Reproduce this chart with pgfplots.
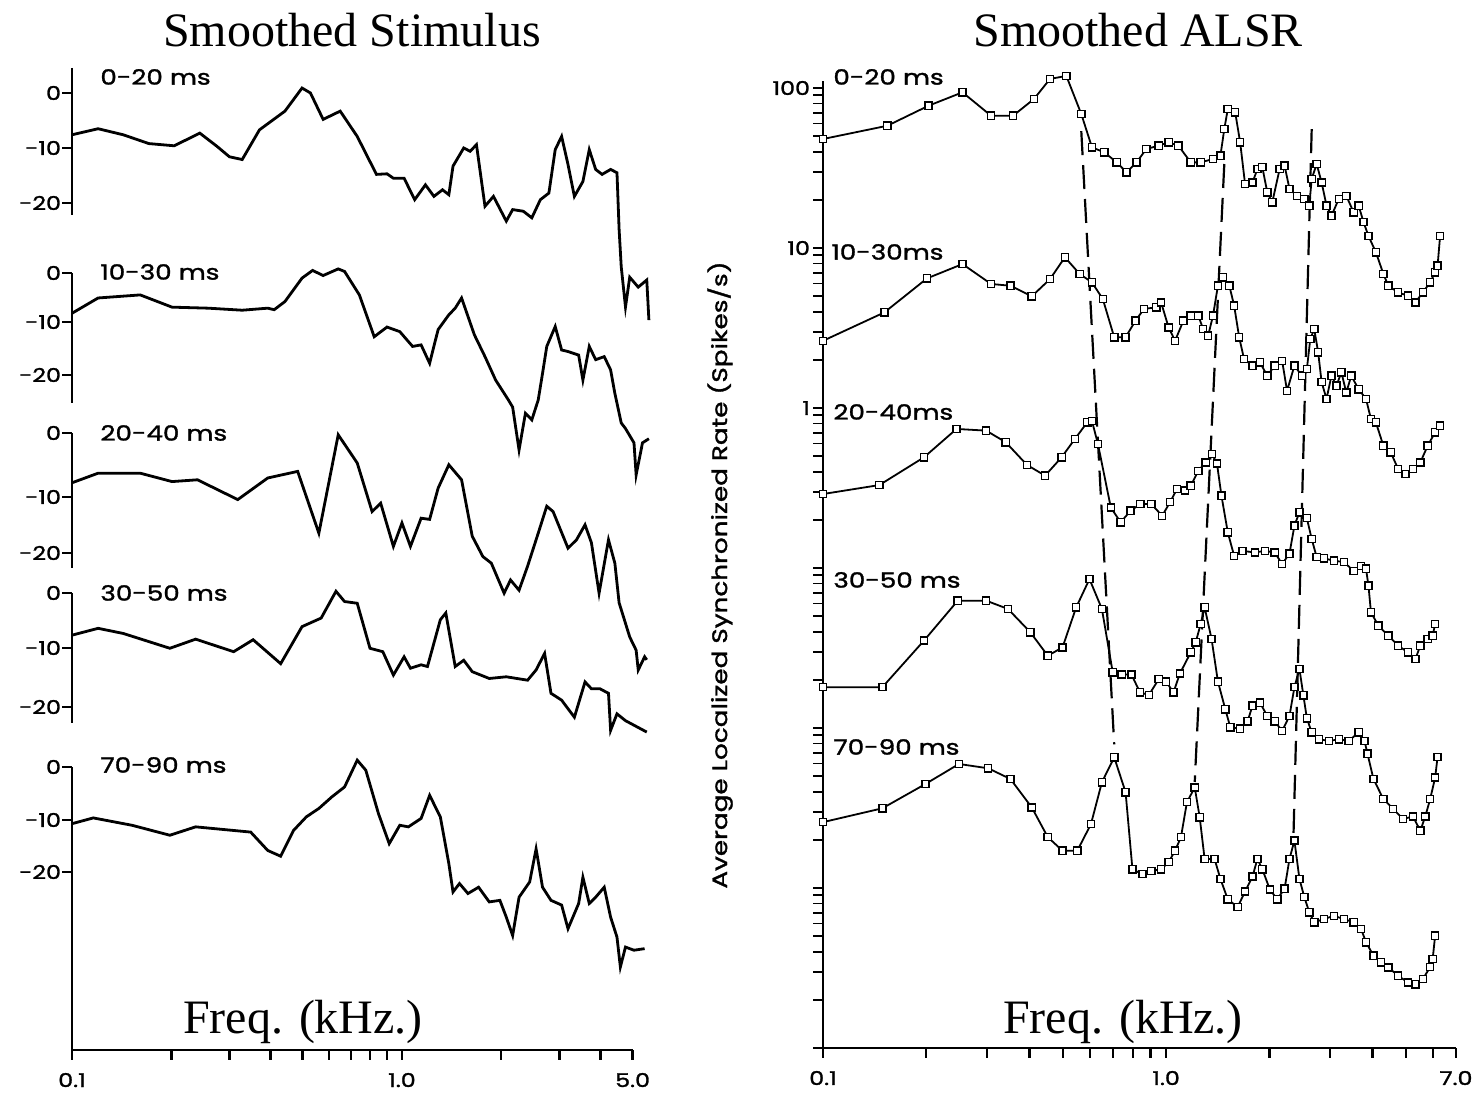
\documentclass[border=0pt]{standalone}
\usepackage{pgfplots}
\pgfplotsset{compat=1.18}
\usepackage{fontspec}
\setmainfont{Liberation Serif}
\newfontfamily\lab{Poppins}[FakeStretch=1.25, FakeBold=1.5]

\begin{document}
\begin{tikzpicture}
\path[use as bounding box] (0,0) rectangle (737.5pt,550.5pt);

% ---------------- left panel: smoothed stimulus (dB, five offset traces)
\begin{axis}[
  at={(36pt,25.5pt)}, anchor=south west,
  scale only axis, width=280.3pt, height=492.5pt,
  xmode=log, xmin=0.1, xmax=5,
  ymin=-1050, ymax=-65,
  axis x line=bottom, axis y line=left,
  axis line style={-, line width=1.3pt},
  y axis line style={draw=none},
  tick align=outside,
  major tick length=5pt, minor tick length=5pt,
  every tick/.style={black, line width=1.2pt},
  xtick={0.1,1,5}, xticklabels={0.1,1.0,5.0},
  minor xtick={0.2,0.3,0.4,0.5,0.6,0.7,0.8,0.9,2,3,4},
  ytick={-93,-148,-203,-273,-322,-375,-433,-497,-553,-593,-648,-707,-767,-820,-872},
  yticklabels={0,-10,-20,0,-10,-20,0,-10,-20,0,-10,-20,0,-10,-20},
  ticklabel style={font=\lab\fontsize{9.5}{10}\selectfont},
  yticklabel style={xshift=3pt},
  xticklabel style={yshift=-3pt},
  clip=false,
]
% axis segments, one per trace
\draw[line width=1.3pt] (axis cs:0.1,-68) -- (axis cs:0.1,-215);
\draw[line width=1.3pt] (axis cs:0.1,-273) -- (axis cs:0.1,-403);
\draw[line width=1.3pt] (axis cs:0.1,-433) -- (axis cs:0.1,-568);
\draw[line width=1.3pt] (axis cs:0.1,-593) -- (axis cs:0.1,-723);
\draw[line width=1.3pt] (axis cs:0.1,-767) -- (axis cs:0.1,-1050);

% 0-20 ms
\addplot[black, line width=1.4pt, y filter/.expression={-93+5.5*y}] coordinates {
(0.100,-7.6) (0.120,-6.5) (0.143,-7.6) (0.171,-9.2) (0.204,-9.6) (0.244,-7.3)
(0.275,-9.7) (0.300,-11.6) (0.328,-12.1) (0.370,-6.7) (0.442,-3.3) (0.498,0.9)
(0.528,0.0) (0.577,-4.8) (0.650,-3.3) (0.732,-7.9) (0.837,-14.8) (0.901,-14.7)
(0.942,-15.5) (1.015,-15.5) (1.093,-19.4) (1.178,-16.7) (1.250,-18.8) (1.327,-17.6)
(1.387,-18.5) (1.428,-13.3) (1.539,-10.0) (1.609,-10.6) (1.682,-9.4) (1.785,-20.6)
(1.894,-18.8) (2.071,-23.3) (2.165,-21.2) (2.332,-21.5) (2.475,-22.7) (2.627,-19.4)
(2.788,-18.2) (2.914,-10.3) (3.047,-7.9) (3.186,-13.0) (3.331,-18.8) (3.535,-16.1)
(3.696,-10.3) (3.865,-13.9) (4.041,-14.8) (4.289,-13.9) (4.484,-14.5) (4.551,-24.8)
(4.619,-31.6) (4.758,-38.9) (4.901,-33.5) (5.201,-35.3) (5.520,-34.0) (5.603,-41.3)
};
% 10-30 ms
\addplot[black, line width=1.4pt, y filter/.expression={-273+5.1*y}] coordinates {
(0.100,-7.9) (0.120,-4.9) (0.161,-4.3) (0.201,-6.7) (0.259,-6.9) (0.328,-7.3)
(0.392,-6.9) (0.410,-7.2) (0.442,-5.6) (0.498,-1.0) (0.536,0.5) (0.577,-0.5)
(0.641,0.8) (0.670,0.3) (0.743,-4.3) (0.824,-12.5) (0.901,-10.6) (0.985,-11.5)
(1.077,-14.4) (1.143,-14.1) (1.213,-17.7) (1.287,-11.1) (1.387,-8.2) (1.450,-6.9)
(1.516,-4.9) (1.585,-8.5) (1.657,-12.1) (1.785,-16.4) (1.923,-21.0) (2.102,-24.9)
(2.165,-26.3) (2.264,-34.7) (2.367,-27.5) (2.475,-28.8) (2.588,-24.9) (2.667,-19.7)
(2.747,-14.4) (2.914,-10.5) (3.047,-15.1) (3.186,-15.4) (3.432,-16.1) (3.535,-21.0)
(3.696,-14.4) (3.865,-17.0) (4.102,-16.4) (4.289,-19.0) (4.418,-23.6) (4.619,-29.4)
(4.758,-30.5) (5.049,-33.3) (5.125,-39.6) (5.358,-33.3) (5.603,-32.5)
};
% 20-40 ms
\addplot[black, line width=1.4pt, y filter/.expression={-433+6.0*y}] coordinates {
(0.100,-8.3) (0.120,-6.7) (0.161,-6.7) (0.201,-8.1) (0.240,-7.8) (0.318,-11.1)
(0.392,-7.5) (0.483,-6.4) (0.560,-16.7) (0.641,-0.3) (0.732,-5.0) (0.812,-13.1)
(0.862,-11.7) (0.942,-18.9) (1.000,-15.0) (1.061,-18.9) (1.143,-14.2) (1.213,-14.4)
(1.287,-9.2) (1.387,-5.3) (1.516,-7.8) (1.633,-17.2) (1.759,-20.6) (1.866,-21.7)
(2.040,-26.7) (2.133,-24.5) (2.264,-26.2) (2.403,-22.2) (2.588,-16.7) (2.747,-12.2)
(2.871,-13.1) (3.186,-19.2) (3.381,-17.8) (3.588,-15.3) (3.752,-18.3) (3.958,-26.7)
(4.226,-17.8) (4.418,-21.7) (4.551,-28.3) (4.901,-34.0) (5.125,-36.2) (5.201,-39.5)
(5.438,-37.3) (5.520,-37.8)
};
% 30-50 ms
\addplot[black, line width=1.4pt, y filter/.expression={-593+5.7*y}] coordinates {
(0.100,-7.4) (0.120,-6.2) (0.143,-7.1) (0.198,-9.7) (0.237,-8.1) (0.309,-10.3)
(0.354,-8.2) (0.429,-12.4) (0.498,-5.9) (0.569,-4.4) (0.631,0.3) (0.670,-1.5)
(0.732,-1.8) (0.800,-9.7) (0.875,-10.3) (0.942,-14.4) (1.015,-11.2) (1.061,-13.2)
(1.143,-12.6) (1.195,-12.9) (1.307,-4.7) (1.358,-3.5) (1.450,-12.9) (1.539,-11.8)
(1.633,-13.8) (1.839,-15.0) (2.071,-14.7) (2.403,-15.3) (2.550,-13.5) (2.706,-10.6)
(2.829,-17.6) (3.047,-18.8) (3.331,-21.8) (3.588,-15.6) (3.752,-16.8) (3.981,-16.8)
(4.226,-17.6) (4.289,-24.1) (4.484,-21.2) (4.758,-22.4) (5.520,-24.4)
};
% 70-90 ms
\addplot[black, line width=1.4pt, y filter/.expression={-767+5.25*y}] coordinates {
(0.100,-10.8) (0.116,-9.7) (0.152,-11.1) (0.198,-13.0) (0.237,-11.4) (0.348,-12.4)
(0.392,-15.9) (0.429,-17.0) (0.469,-12.1) (0.513,-9.5) (0.560,-7.9) (0.613,-5.7)
(0.670,-3.8) (0.732,1.3) (0.777,-0.6) (0.849,-8.9) (0.915,-14.6) (0.985,-11.1)
(1.046,-11.4) (1.143,-9.8) (1.213,-5.4) (1.307,-9.5) (1.387,-18.4) (1.428,-23.8)
(1.494,-22.2) (1.585,-24.1) (1.707,-22.9) (1.839,-25.7) (1.981,-25.4) (2.071,-28.6)
(2.165,-32.1) (2.264,-24.8) (2.438,-21.9) (2.550,-15.6) (2.667,-22.9) (2.829,-25.4)
(3.047,-26.3) (3.186,-30.8) (3.432,-26.0) (3.535,-21.0) (3.696,-26.0) (3.865,-24.8)
(4.102,-22.9) (4.289,-28.6) (4.484,-32.4) (4.591,-38.1) (4.758,-34.3) (5.049,-34.9)
(5.438,-34.6)
};
\end{axis}

% ---------------- right panel: smoothed ALSR (log rate, traces a decade apart)
\begin{axis}[
  at={(411.5pt,26.5pt)}, anchor=south west,
  scale only axis, width=316.5pt, height=483.3pt,
  xmode=log, ymode=log,
  xmin=0.1, xmax=7, ymin=1e-4, ymax=110,
  axis x line=bottom, axis y line=left,
  axis line style={-, line width=1.3pt},
  tick align=outside,
  major tick length=5pt, minor tick length=5pt,
  every tick/.style={black, line width=1.2pt},
  xtick={0.1,1,7}, xticklabels={0.1,1.0,7.0},
  minor xtick={0.2,0.3,0.4,0.5,0.6,0.7,0.8,0.9,2,3,4,5,6},
  ytick={1e-4,1e-3,0.01,0.1,1,10,100},
  yticklabels={,,,,1,10,100},
  minor ytick={2e-4,3e-4,4e-4,5e-4,6e-4,7e-4,8e-4,9e-4,
    2e-3,3e-3,4e-3,5e-3,6e-3,7e-3,8e-3,9e-3,
    0.02,0.03,0.04,0.05,0.06,0.07,0.08,0.09,
    0.2,0.3,0.4,0.5,0.6,0.7,0.8,0.9,
    2,3,4,5,6,7,8,9,20,30,40,50,60,70,80,90},
  y tick style={line width=0.9pt},
  major y tick style={line width=1.1pt},
  ticklabel style={font=\lab\fontsize{9.5}{10}\selectfont},
  yticklabel style={xshift=2pt},
  xticklabel style={yshift=-3pt},
  clip=false,
]
% formant tracks
\addplot[black, line width=1.1pt, dash pattern=on 12pt off 5pt] coordinates {(0.566,53.8) (0.706,0.0079)};
\addplot[black, line width=1.1pt, dash pattern=on 12pt off 5pt] coordinates {(1.478,33.5) (1.212,0.0046)};
\addplot[black, line width=1.1pt, dash pattern=on 12pt off 5pt] coordinates {(2.657,55.4) (2.351,0.00211)};

\pgfplotsset{alsr/.style={black, line width=0.9pt, mark=square*, mark size=1.8pt,
  mark options={fill=white, line width=0.7pt, solid}}}
% 0-20 ms
\addplot[alsr] coordinates {
(0.100,48.0) (0.154,58.1) (0.203,77.5) (0.255,94.0) (0.309,67.1) (0.358,67.1)
(0.412,85.4) (0.459,114) (0.512,119) (0.566,68.8) (0.608,42.6) (0.661,39.6)
(0.718,34.3) (0.767,29.7) (0.820,34.3) (0.876,41.6) (0.952,43.6) (1.017,45.8)
(1.086,43.6) (1.180,34.3) (1.261,34.3) (1.370,36.0) (1.440,37.8) (1.478,55.4)
(1.513,73.9) (1.590,70.5) (1.644,45.8) (1.699,25.1) (1.786,25.7) (1.846,31.2)
(1.908,32.0) (1.972,22.3) (2.039,19.3) (2.143,31.2) (2.215,32.7) (2.289,23.4)
(2.406,21.2) (2.528,20.3) (2.614,18.4) (2.657,27.0) (2.747,33.5) (2.840,25.7)
(2.935,18.4) (3.034,15.9) (3.188,20.3) (3.351,21.2) (3.522,16.7) (3.641,18.4)
(3.763,14.5) (3.890,11.9) (4.088,9.4) (4.297,6.9) (4.442,5.81) (4.746,5.28)
(5.070,5.03) (5.329,4.57) (5.601,5.28) (5.885,6.10) (6.084,7.05) (6.185,7.75)
(6.290,11.9)
};
% 10-30 ms
\addplot[alsr] coordinates {
(0.100,2.63) (0.151,3.96) (0.201,6.46) (0.255,7.94) (0.309,5.96) (0.352,5.81)
(0.406,4.99) (0.459,6.40) (0.507,8.75) (0.560,6.88) (0.608,6.10) (0.654,4.80)
(0.706,2.77) (0.762,2.77) (0.814,3.51) (0.862,4.16) (0.936,4.26) (0.967,4.57)
(1.017,3.19) (1.062,2.63) (1.123,3.51) (1.180,3.78) (1.241,3.78) (1.282,3.12)
(1.326,2.83) (1.370,3.78) (1.416,5.81) (1.464,6.56) (1.529,5.81) (1.579,4.36)
(1.633,2.77) (1.688,2.02) (1.786,1.84) (1.877,1.93) (1.972,1.59) (2.073,1.84)
(2.179,1.97) (2.252,1.28) (2.366,1.84) (2.488,1.59) (2.572,1.75) (2.632,2.70)
(2.702,3.12) (2.775,2.23) (2.840,1.45) (2.935,1.14) (3.034,1.59) (3.137,1.38)
(3.243,1.67) (3.351,1.25) (3.465,1.59) (3.641,1.31) (3.826,1.14) (3.955,0.853)
(4.088,0.813) (4.297,0.582) (4.516,0.528) (4.746,0.416) (4.987,0.387) (5.242,0.416)
(5.508,0.457) (5.788,0.582) (6.084,0.705) (6.290,0.775)
};
% 20-40 ms
\addplot[alsr] coordinates {
(0.100,0.290) (0.146,0.330) (0.197,0.492) (0.245,0.740) (0.299,0.722) (0.341,0.611)
(0.393,0.441) (0.444,0.378) (0.496,0.492) (0.542,0.640) (0.589,0.813) (0.608,0.830)
(0.633,0.596) (0.690,0.239) (0.737,0.193) (0.788,0.228) (0.841,0.251) (0.906,0.251)
(0.974,0.212) (1.027,0.258) (1.076,0.312) (1.134,0.305) (1.180,0.327) (1.241,0.405)
(1.304,0.457) (1.361,0.516) (1.407,0.450) (1.450,0.283) (1.513,0.167) (1.579,0.119)
(1.671,0.128) (1.816,0.125) (1.940,0.128) (2.073,0.125) (2.179,0.106) (2.289,0.123)
(2.366,0.184) (2.447,0.223) (2.572,0.205) (2.657,0.152) (2.747,0.117) (2.887,0.115)
(3.084,0.111) (3.296,0.109) (3.522,0.096) (3.703,0.103) (3.826,0.099) (3.890,0.0776)
(3.955,0.0529) (4.157,0.0436) (4.442,0.0378) (4.746,0.0327) (5.070,0.0297) (5.329,0.0270)
(5.508,0.0327) (5.788,0.0360) (5.984,0.0378) (6.084,0.0447)
};
% 30-50 ms
\addplot[alsr] coordinates {
(0.100,0.0180) (0.149,0.0180) (0.197,0.0352) (0.247,0.0625) (0.299,0.0625) (0.346,0.0555)
(0.402,0.0397) (0.452,0.0283) (0.499,0.0319) (0.547,0.0568) (0.598,0.0853) (0.650,0.0555)
(0.699,0.0223) (0.742,0.0216) (0.793,0.0216) (0.839,0.0167) (0.891,0.0161) (0.952,0.0202)
(1.000,0.0195) (1.051,0.0167) (1.097,0.0219) (1.180,0.0297) (1.220,0.0343) (1.261,0.0447)
(1.295,0.0568) (1.357,0.0360) (1.416,0.0195) (1.488,0.0131) (1.539,0.0101) (1.644,0.0099)
(1.728,0.0110) (1.786,0.0138) (1.877,0.0144) (1.972,0.0119) (2.073,0.0110) (2.179,0.0096)
(2.289,0.0119) (2.366,0.0180) (2.447,0.0234) (2.513,0.0160) (2.572,0.0115) (2.657,0.0094)
(2.794,0.0085) (2.985,0.0083) (3.188,0.0085) (3.408,0.0083) (3.641,0.0094) (3.788,0.0083)
(3.865,0.0069) (4.021,0.0048) (4.297,0.0036) (4.591,0.00312) (4.905,0.0027) (5.242,0.0028)
(5.508,0.00228) (5.694,0.0028) (5.885,0.0036) (6.084,0.0049) (6.185,0.0066)
};
% 70-90 ms
\addplot[alsr] coordinates {
(0.100,0.00258) (0.149,0.00315) (0.199,0.00447) (0.249,0.00596) (0.303,0.00560) (0.352,0.00480)
(0.406,0.00319) (0.452,0.00208) (0.499,0.00171) (0.551,0.00171) (0.604,0.00251) (0.650,0.00458)
(0.706,0.00656) (0.762,0.00397) (0.798,0.00131) (0.853,0.00122) (0.906,0.00128) (0.967,0.00131)
(1.017,0.00145) (1.062,0.00171) (1.105,0.00208) (1.150,0.00344) (1.212,0.00425) (1.253,0.00277)
(1.295,0.00152) (1.384,0.00152) (1.440,0.00114) (1.513,0.00085) (1.616,0.00076) (1.699,0.00095)
(1.786,0.00118) (1.846,0.00152) (1.908,0.00131) (2.006,0.00098) (2.108,0.00085) (2.215,0.00099)
(2.289,0.00152) (2.366,0.00198) (2.447,0.00114) (2.528,0.00088) (2.614,0.000705) (2.702,0.00061)
(2.887,0.00064) (3.084,0.00067) (3.296,0.00064) (3.522,0.00061) (3.703,0.000554) (3.826,0.000458)
(4.021,0.000378) (4.226,0.000343) (4.442,0.000319) (4.746,0.000283) (5.070,0.000257) (5.329,0.00025)
(5.601,0.00027) (5.885,0.00032) (5.984,0.00036) (6.084,0.000504)
};
\end{axis}

% ---------------- text, placed in reference pixel coordinates
\begin{scope}[shift={(0pt,550.5pt)}, x=0.5pt, y=-0.5pt]
\node[font=\fontsize{24}{26}\selectfont] at (352,30) {Smoothed Stimulus};
\node[font=\fontsize{24}{26}\selectfont] at (1138,30) {Smoothed ALSR};
\node[font=\fontsize{24}{26}\selectfont] at (303,1022) {Freq. (kHz.)};
\node[font=\fontsize{24}{26}\selectfont] at (1123,1022) {Freq. (kHz.)};
\begin{scope}[every node/.style={anchor=west, inner sep=0pt, font=\lab\fontsize{10.5}{11}\selectfont}]
\node at (100,77) {0-20 ms};
\node at (100,272) {10-30 ms};
\node at (100,433) {20-40 ms};
\node at (100,593) {30-50 ms};
\node at (100,765) {70-90 ms};
\node at (833,77) {0-20 ms};
\node at (831,252) {10-30ms};
\node at (833,412) {20-40ms};
\node at (833,580) {30-50 ms};
\node at (833,747) {70-90 ms};
\end{scope}
\node[rotate=90, font=\lab\fontsize{10.5}{12}\selectfont] at (720,575)
  {Average Localized Synchronized Rate (Spikes/s)};
\end{scope}
\end{tikzpicture}
\end{document}
